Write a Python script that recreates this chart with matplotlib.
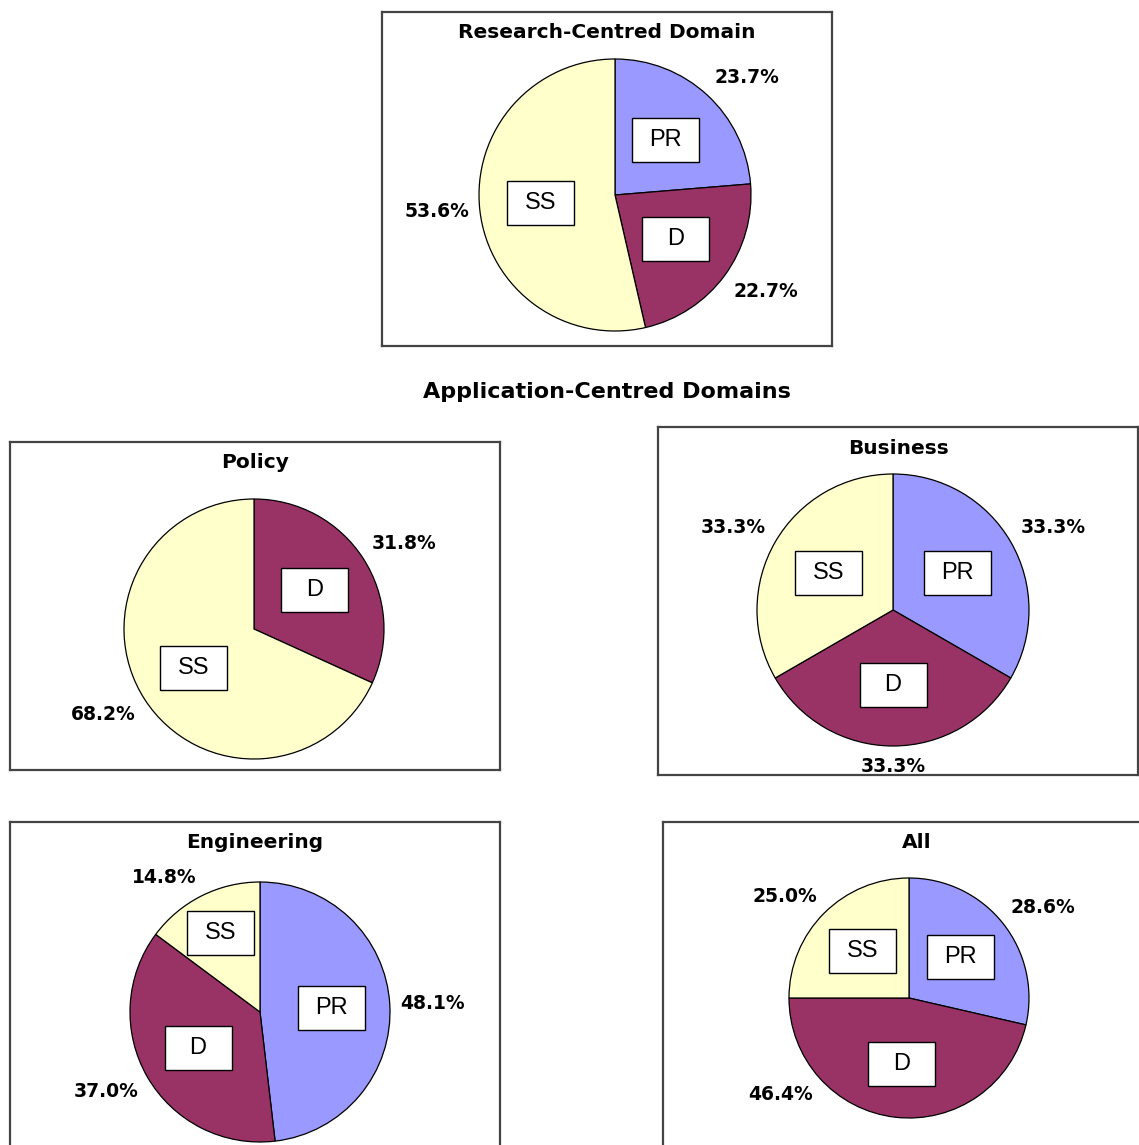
import numpy as np
import matplotlib
matplotlib.use("Agg")
from matplotlib import pyplot as plt
from matplotlib.patches import Rectangle

categories = ["PR", "D", "SS"]
colors = ["#9999FF", "#993366", "#FFFFCC"]

research_vals = [23.7, 22.7, 53.6]
policy_vals = [0.0, 31.8, 68.2]
business_vals = [33.3, 33.3, 33.3]
engineering_vals = [48.1, 37.0, 14.8]
all_vals = [28.6, 46.4, 25.0]

panel_titles = ["Research-Centred Domain", "Policy", "Business", "Engineering", "All"]
panel_values = [research_vals, policy_vals, business_vals, engineering_vals, all_vals]
heading = "Application-Centred Domains"

W, H = 1139, 1145

# pixel layout: frame (x0, y0, x1, y1), pie centre, radius
layout = {
    "Research-Centred Domain": ((382, 12, 832, 346), (615, 195), 136),
    "Policy": ((10, 442, 500, 770), (254, 629), 130),
    "Business": ((658, 427, 1138, 775), (893, 610), 136),
    "Engineering": ((10, 822, 500, 1180), (260, 1012), 130),
    "All": ((663, 822, 1170, 1180), (909, 998), 120),
}
# a label that was dragged away from its wedge in the original
pct_angle_override = {("All", "D"): 222}


def f_draw_panel(fig_ia, title_ia, values_ia):
    (x0, y0, x1, y1), centre_, r_ = layout[title_ia]
    w_, h_ = x1 - x0, y1 - y0
    ax_ = fig_ia.add_axes([x0 / W, 1 - y1 / H, w_ / W, h_ / H])
    cx_ = centre_[0] - x0
    cy_ = y1 - centre_[1]

    keep_ = [i for i, v in enumerate(values_ia) if v > 0]
    wedges_, _ = ax_.pie([values_ia[i] for i in keep_],
                         colors=[colors[i] for i in keep_],
                         startangle=90, counterclock=False,
                         center=(cx_, cy_), radius=r_, frame=True,
                         wedgeprops=dict(edgecolor="black", linewidth=0.9))
    ax_.set_xlim(0, w_)
    ax_.set_ylim(0, h_)
    ax_.set_xticks([])
    ax_.set_yticks([])
    for s_ in ax_.spines.values():
        s_.set_color("#444444")
        s_.set_linewidth(1.6)

    for wedge_, i in zip(wedges_, keep_):
        mid_ = np.deg2rad((wedge_.theta1 + wedge_.theta2) / 2)
        # narrow wedges get their box pushed further out
        dist_ = 0.68 if values_ia[i] < 20 else 0.55
        bx_ = cx_ + dist_ * r_ * np.cos(mid_)
        by_ = cy_ + dist_ * r_ * np.sin(mid_)
        ax_.add_patch(Rectangle((bx_ - 33.5, by_ - 22), 67, 44, facecolor="white",
                                edgecolor="black", linewidth=1, zorder=3))
        ax_.text(bx_, by_, categories[i], ha="center", va="center", fontsize=17,
                 family="Liberation Sans", zorder=4)

        ang_ = pct_angle_override.get((title_ia, categories[i]))
        ang_ = mid_ if ang_ is None else np.deg2rad(ang_)
        c_, s_ = np.cos(ang_), np.sin(ang_)
        ha_ = "left" if c_ > 0.25 else ("right" if c_ < -0.25 else "center")
        va_ = "bottom" if s_ > 0.25 else ("top" if s_ < -0.25 else "center")
        ax_.text(cx_ + 1.08 * r_ * c_, cy_ + 1.08 * r_ * s_, f"{values_ia[i]:.1f}%",
                 ha=ha_, va=va_, fontsize=13.5, fontweight="bold",
                 family="DejaVu Sans", zorder=4)

    ax_.text(w_ / 2, h_ - 21, title_ia, ha="center", va="center", fontsize=14.5,
             fontweight="bold", family="DejaVu Sans")
    return ax_


fig = plt.figure(figsize=(W / 100, H / 100), dpi=100)
for title_, vals_ in zip(panel_titles, panel_values):
    f_draw_panel(fig, title_, vals_)

fig.text(607 / W, 1 - 398 / H, heading, ha="center", va="baseline", fontsize=16,
         fontweight="bold", family="DejaVu Sans")

fig.savefig("out.png", dpi=100)
